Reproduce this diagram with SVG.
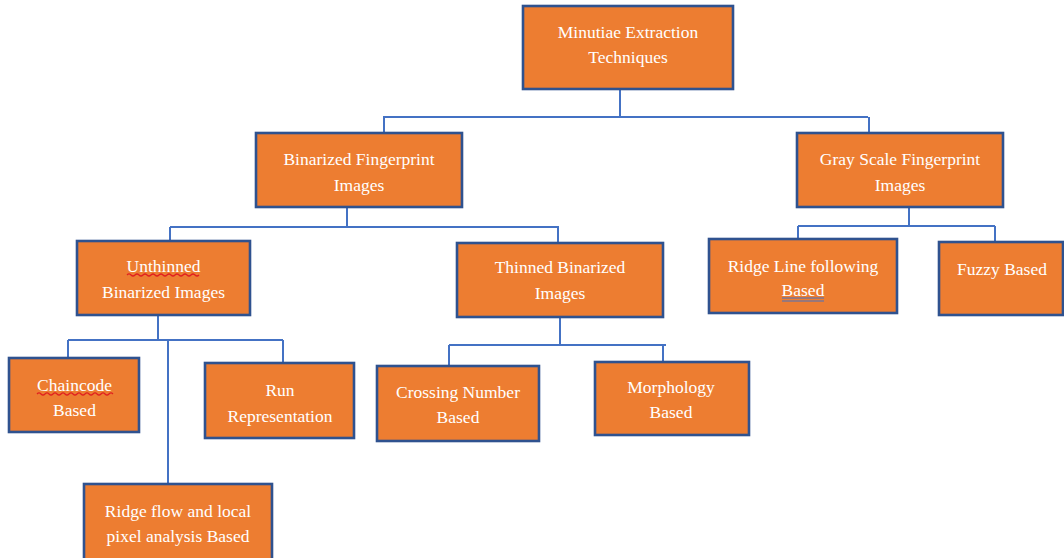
<svg xmlns="http://www.w3.org/2000/svg" width="1064" height="558" viewBox="0 0 1064 558">
<style>
.box{fill:#ED7D31;stroke:#2F528F;stroke-width:2.6}
.t{font-family:"Liberation Serif","Times New Roman",serif;font-size:17.5px;fill:#FFFFFF;text-anchor:middle}
.c{fill:none;stroke:#4472C4;stroke-width:2}
.sq{fill:none;stroke:#E02020;stroke-width:1.2}
.ul{fill:none;stroke:#4472C4;stroke-width:1.2}
</style>
<rect width="1064" height="558" fill="#FFFFFF"/>
<g id="connectors">
<path class="c" d="M620,89 V118 M383,117 H868 M384,117 V133 M869,117 V133"/>
<path class="c" d="M347,207 V227 M170,227 H558 M170,227 V241 M558,226 V243"/>
<path class="c" d="M909,207 V226 M798,226 H995 M798,226 V239 M995,226 V242"/>
<path class="c" d="M158,315 V340 M68,340 H283 M68,340 V358 M283,340 V363 M168,340 V484"/>
<path class="c" d="M560,317 V345 M449,345 H666 M449,345 V366 M663,345 V362"/>
</g>
<g id="n1"><rect class="box" x="523" y="6" width="210" height="83"/>
<text class="t" x="628" y="38">Minutiae Extraction</text><text class="t" x="628" y="63">Techniques</text></g>
<g id="n2"><rect class="box" x="256" y="133" width="206" height="74"/>
<text class="t" x="359" y="165">Binarized Fingerprint</text><text class="t" x="359" y="191">Images</text></g>
<g id="n3"><rect class="box" x="797" y="133" width="206" height="74"/>
<text class="t" x="900" y="165">Gray Scale Fingerprint</text><text class="t" x="900" y="191">Images</text></g>
<g id="n4"><rect class="box" x="77" y="241" width="173" height="74"/>
<text class="t" x="163.5" y="272">Unthinned</text><text class="t" x="163.5" y="298">Binarized Images</text>
<path class="sq" d="M127,275 q2,-2 4,0 t4,0 t4,0 t4,0 t4,0 t4,0 t4,0 t4,0 t4,0 t4,0 t4,0 t4,0 t4,0 t4,0 t4,0 t4,0 t4,0 t4,0"/></g>
<g id="n5"><rect class="box" x="457" y="243" width="206" height="74"/>
<text class="t" x="560" y="273">Thinned Binarized</text><text class="t" x="560" y="299">Images</text></g>
<g id="n6"><rect class="box" x="709" y="239" width="188" height="74"/>
<text class="t" x="803" y="272">Ridge Line following</text><text class="t" x="803" y="296">Based</text>
<path class="ul" d="M782,298 H824 M782,301 H824"/></g>
<g id="n7"><rect class="box" x="939" y="242" width="124" height="73"/>
<text class="t" x="1002" y="275">Fuzzy Based</text></g>
<g id="n8"><rect class="box" x="9" y="358" width="130" height="74"/>
<text class="t" x="74.5" y="391">Chaincode</text><text class="t" x="74.5" y="416">Based</text>
<path class="sq" d="M37,394 q2,-2 4,0 t4,0 t4,0 t4,0 t4,0 t4,0 t4,0 t4,0 t4,0 t4,0 t4,0 t4,0 t4,0 t4,0 t4,0 t4,0 t4,0 t4,0 t4,0"/></g>
<g id="n9"><rect class="box" x="205" y="363" width="149" height="75"/>
<text class="t" x="280" y="396">Run</text><text class="t" x="280" y="422">Representation</text></g>
<g id="n10"><rect class="box" x="377" y="366" width="162" height="75"/>
<text class="t" x="458" y="398">Crossing Number</text><text class="t" x="458" y="423">Based</text></g>
<g id="n11"><rect class="box" x="595" y="362" width="154" height="73"/>
<text class="t" x="671" y="393">Morphology</text><text class="t" x="671" y="418">Based</text></g>
<g id="n12"><rect class="box" x="84" y="484" width="188" height="80"/>
<text class="t" x="178" y="517">Ridge flow and local</text><text class="t" x="178" y="542">pixel analysis Based</text></g>
</svg>
